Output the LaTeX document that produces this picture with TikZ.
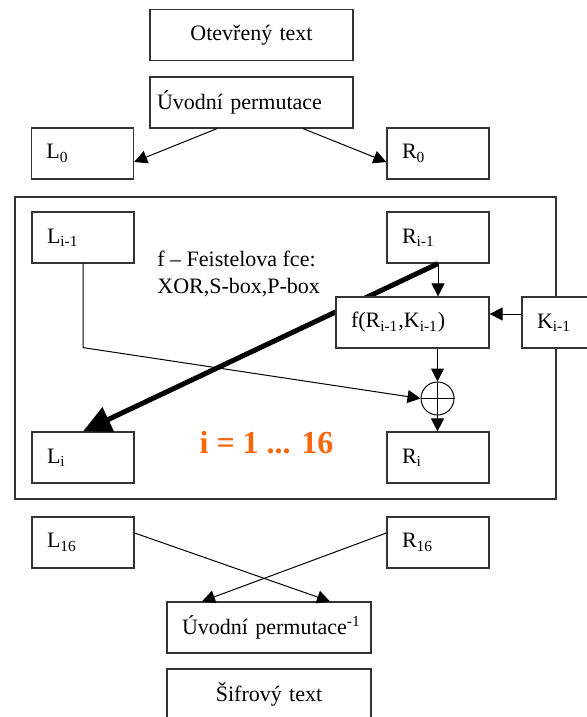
\documentclass[tikz,border=0pt]{standalone}
\usepackage{fontspec}
\setmainfont{Liberation Serif}
\usepackage{tikz}
\usetikzlibrary{arrows.meta,positioning}
\definecolor{LoopOrange}{RGB}{250,102,12}
\definecolor{FrameGray}{RGB}{51,51,51}

\begin{document}
\begin{tikzpicture}[
    x=0.5pt, y=-0.5pt,
    font=\fontsize{11}{13.5}\selectfont,
    blok/.style={draw=FrameGray, line width=0.6pt, fill=white, rectangle, inner xsep=7.5pt, inner ysep=0pt, minimum height=25.5pt, text width=#1, align=left},
    blok/.default=36pt,
    arrow/.style={-{Triangle[length=6.5pt,width=6.5pt]}, line width=0.5pt},
    bigarrow/.style={-{Triangle[length=14pt,width=13pt]}, line width=2.5pt}
  ]
    \useasboundingbox (0,0) rectangle (587,717);

    \node[blok=86.5pt, align=center] (open) at (251.5,35) {Otevřený text};
    \node[blok=94.5pt, inner xsep=3.5pt] (perm) at (251.5,102.5) {Úvodní permutace};
    \node[blok] (L0) at (82.5,153.5) {L\textsubscript{0}};
    \node[blok] (R0) at (438,153.5) {R\textsubscript{0}};

    \draw[draw=FrameGray, line width=0.6pt] (15,197) rectangle (556,499);
    \node[blok] (Lp) at (83,237.5) {L\textsubscript{i-1}};
    \node[blok] (Rp) at (438,237.5) {R\textsubscript{i-1}};
    \node[blok] (Li) at (83,457.5) {L\textsubscript{i}};
    \node[blok] (Ri) at (438,457.5) {R\textsubscript{i}};
    \draw[bigarrow] (Rp.south) -- (Li.north);
    \node[blok=61.5pt] (f) at (412.5,322.5) {f(R\textsubscript{i-1},K\textsubscript{i-1})};
    \node[blok] (K) at (573,322.5) {K\textsubscript{i-1}};
    \node[draw, circle, minimum size=16.5pt, inner sep=0pt, line width=0.5pt] (xor) at (437.5,398.5) {};
    \draw[line width=0.5pt] (xor.north) -- (xor.south) (xor.west) -- (xor.east);
    \node[anchor=north west, align=left, inner sep=0pt] (fdesc) at (157,251) {f – Feistelova fce:\\XOR,S-box,P-box};
    \node[font=\fontsize{16}{19}\selectfont\bfseries, text=LoopOrange] (iter) at (266.5,443) {i = 1 ... 16};

    \node[blok] (L16) at (83,542.5) {L\textsubscript{16}};
    \node[blok] (R16) at (438,542.5) {R\textsubscript{16}};
    \node[blok=94pt, inner xsep=4pt] (inv) at (269,627.5) {\hspace*{3.5pt}Úvodní permutace\textsuperscript{-1}};
    \node[blok=87pt, align=center] (sif) at (269,694.5) {Šifrový text};

    \draw[arrow] ([xshift=-17.25pt]perm.south) -- ([yshift=-4.25pt]L0.east);
    \draw[arrow] ([xshift=25.75pt]perm.south) -- ([yshift=-4.25pt]R0.west);
    \draw[arrow] (Rp.south) -- (Rp.south |- f.north);
    \draw[arrow] ([yshift=4.25pt]K.west) -- ([yshift=4.25pt]f.east);
    \draw[arrow] (xor.north |- f.south) -- (xor.north);
    \draw[arrow] (xor.south) -- (xor.south |- Ri.north);
    \draw[arrow] (Lp.south) -- ++(0,84) coordinate (knee) -- (xor.west);
    \draw[arrow] ([yshift=4.75pt]L16.east) -- ([xshift=30.5pt]inv.north);
    \draw[arrow] ([yshift=4.75pt]R16.west) -- ([xshift=-33.5pt]inv.north);
  \end{tikzpicture}
\end{document}
